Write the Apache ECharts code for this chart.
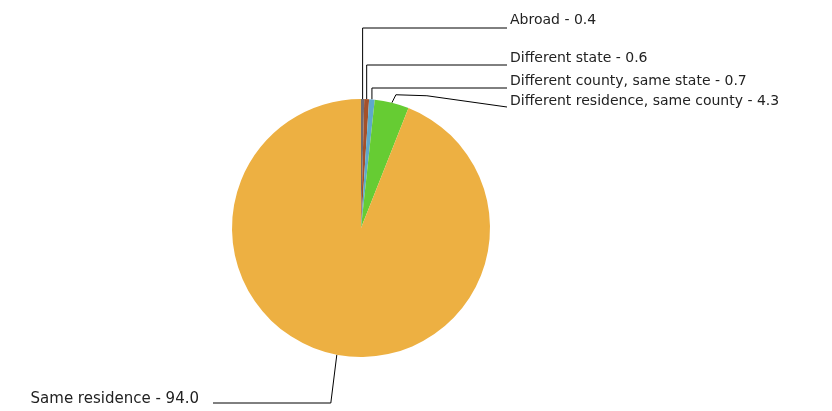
<!DOCTYPE html>
<html>
<head>
<meta charset="utf-8">
<script src="https://cdn.jsdelivr.net/npm/echarts@6/dist/echarts.min.js"></script>
<style>
html,body{margin:0;padding:0;background:#fff;}
#chart{width:832px;height:411px;}
</style>
</head>
<body>
<div id="chart"></div>
<script>
const categories = ['Abroad', 'Different state', 'Different county, same state', 'Different residence, same county', 'Same residence'];
const values = [0.4, 0.6, 0.7, 4.3, 94.0];
const colors = ['#6e6a73', '#a4512a', '#5ea9cc', '#66cc33', '#edb042'];

const chart = echarts.init(document.getElementById('chart'), null, {renderer: 'canvas'});

// label placement (layout only)
const labelPos = [
  {x: 510, y: 20, lineY: 28},
  {x: 510, y: 58, lineY: 65},
  {x: 510, y: 81, lineY: 88},
  {x: 510, y: 101, lineY: 107},
  {x: 199, y: 399, lineY: 403}
];

chart.setOption({
  animation: false,
  backgroundColor: '#ffffff',
  series: [{
    type: 'pie',
    center: [361, 228],
    radius: 129,
    startAngle: 90,
    clockwise: true,
    avoidLabelOverlap: false,
    data: categories.map((c, i) => ({
      name: c,
      value: values[i],
      itemStyle: {color: colors[i]},
      label: i === 4 ? {fontSize: 15} : undefined
    })),
    itemStyle: {borderWidth: 0},
    emphasis: {disabled: true},
    label: {
      show: true,
      position: 'outside',
      formatter: p => p.name + ' - ' + p.value.toFixed(1),
      fontFamily: 'DejaVu Sans',
      fontSize: 14,
      color: '#222'
    },
    labelLine: {
      show: true,
      length: 10,
      length2: 10,
      smooth: false,
      lineStyle: {color: '#000', width: 1}
    },
    labelLayout: function (params) {
      const i = params.dataIndex;
      const L = labelPos[i];
      const a = params.labelLinePoints ? params.labelLinePoints[0] : [0, 0];
      let pts;
      if (i === 4) {
        pts = [a, [a[0] - 6, L.lineY], [L.x + 14, L.lineY]];
        return {x: L.x, y: L.y, align: 'right', verticalAlign: 'middle', labelLinePoints: pts};
      }
      if (i === 3) {
        pts = [a, [a[0] + 4, a[1] - 8], [a[0] + 35, a[1] - 7], [L.x - 3, L.lineY]];
      } else {
        pts = [a, [a[0], L.lineY], [L.x - 3, L.lineY]];
      }
      return {x: L.x, y: L.y, align: 'left', verticalAlign: 'middle', labelLinePoints: pts};
    }
  }]
});
</script>
</body>
</html>
